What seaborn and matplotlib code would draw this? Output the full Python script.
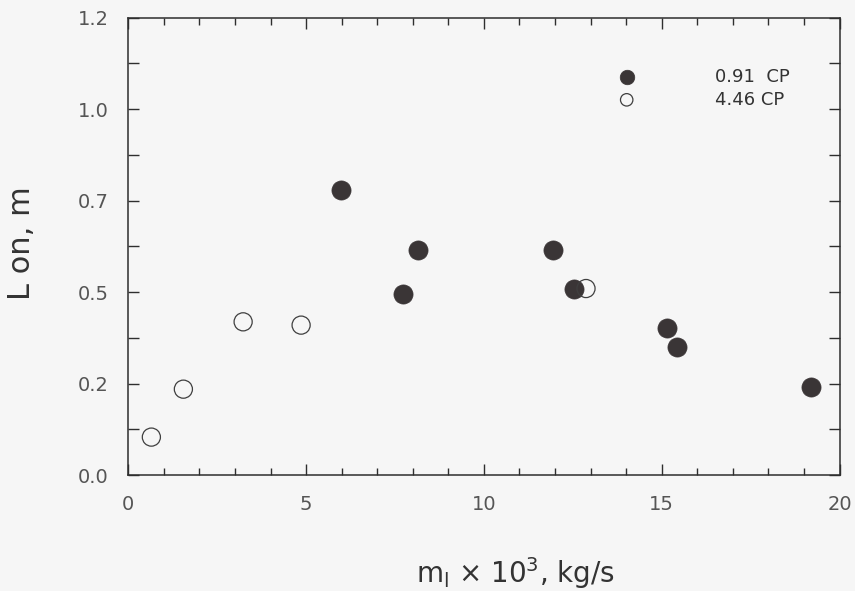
import numpy as np
import pandas as pd
import seaborn as sns
import matplotlib.pyplot as plt
from matplotlib.ticker import FixedLocator, FixedFormatter, MultipleLocator

flow_091 = [5.98, 8.15, 7.73, 11.94, 12.53, 15.14, 15.42, 19.19]
length_091 = [0.778, 0.614, 0.496, 0.614, 0.510, 0.403, 0.351, 0.241]

flow_446 = [0.65, 1.55, 3.23, 4.86, 12.87]
length_446 = [0.104, 0.235, 0.419, 0.410, 0.510]

series_labels = ["0.91  CP", "4.46 CP"]
y_ticks = [0.0, 0.25, 0.5, 0.75, 1.0, 1.25]
y_tick_labels = ["0.0", "0.2", "0.5", "0.7", "1.0", "1.2"]
x_ticks = [0, 5, 10, 15, 20]

sns.set_theme(style="ticks")
plt.rcParams["font.family"] = ["DejaVu Sans"]

bg = "#f6f6f6"
ink = "#3a3536"

fig = plt.figure(figsize=(8.55, 5.91), dpi=100, facecolor=bg)
ax = fig.add_axes([0.150, 0.196, 0.832, 0.774])
ax.set_facecolor(bg)

df_a = pd.DataFrame({"flow": flow_091, "length": length_091})
df_b = pd.DataFrame({"flow": flow_446, "length": length_446})

sns.scatterplot(data=df_a, x="flow", y="length", ax=ax, s=190, color=ink,
                edgecolor=ink, linewidth=0.5, label=series_labels[0], zorder=3)
sns.scatterplot(data=df_b, x="flow", y="length", ax=ax, s=170, facecolor="none",
                edgecolor="#3f3f3f", linewidth=0.9, label=series_labels[1], zorder=4)

ax.set_xlim(0, 20)
ax.set_ylim(0, 1.25)
ax.xaxis.set_major_locator(FixedLocator(x_ticks))
ax.xaxis.set_minor_locator(MultipleLocator(1))
ax.yaxis.set_major_locator(FixedLocator(y_ticks))
ax.yaxis.set_major_formatter(FixedFormatter(y_tick_labels))
ax.yaxis.set_minor_locator(MultipleLocator(0.125))

for side in ["top", "right", "bottom", "left"]:
    ax.spines[side].set_visible(True)
    ax.spines[side].set_color("#2e2e2e")
    ax.spines[side].set_linewidth(1.1)

ax.tick_params(which="both", direction="in", top=True, right=True, color="#2e2e2e", width=1.0)
ax.tick_params(which="major", length=8)
ax.tick_params(which="minor", length=5)
ax.tick_params(axis="y", which="minor", length=8)
ax.tick_params(axis="x", which="major", labelsize=14, labelcolor="#555555", pad=14)
ax.tick_params(axis="y", which="major", labelsize=14, labelcolor="#555555", pad=14)

ax.set_xlabel("m$_\\mathregular{l}$ × 10$^\\mathregular{3}$, kg/s", fontsize=20,
              color="#333333")
ax.set_ylabel("L on, m", fontsize=22, color="#333333")
ax.xaxis.set_label_coords(0.545, -0.175)
ax.yaxis.set_label_coords(-0.129, 0.508)

leg = ax.legend(loc="upper left", bbox_to_anchor=(0.688, 0.89), frameon=False,
                fontsize=13, handlelength=1.0, handletextpad=4.4, labelspacing=0.25,
                borderpad=0, borderaxespad=0)
for txt in leg.get_texts():
    txt.set_color("#333333")
for h, sz in zip(leg.legend_handles, [110, 80]):
    h.set_sizes([sz])

fig.savefig("out.png", dpi=100, facecolor=bg)
